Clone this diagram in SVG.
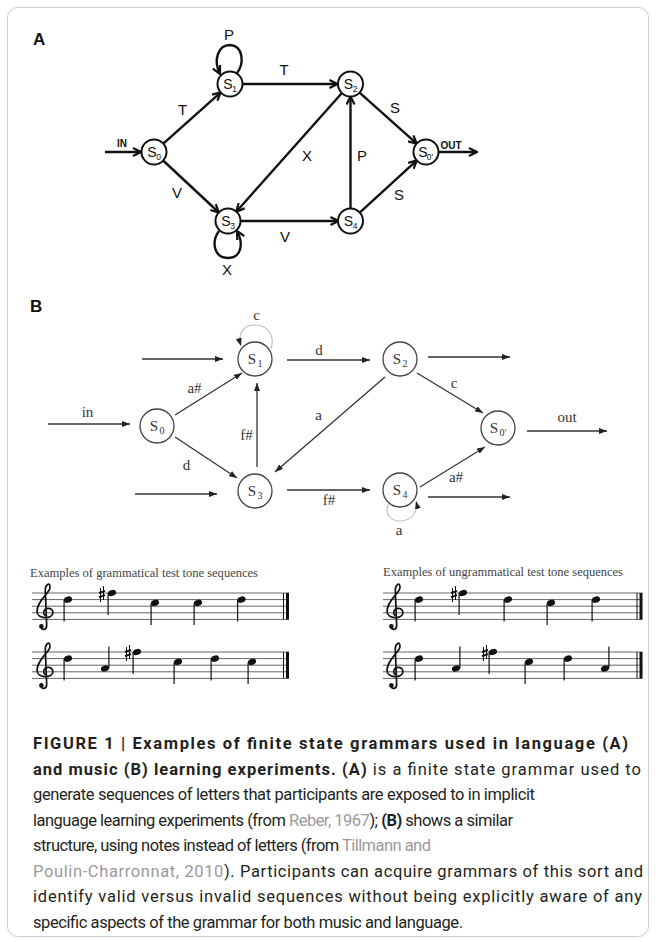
<svg xmlns="http://www.w3.org/2000/svg" xmlns:xlink="http://www.w3.org/1999/xlink" width="656" height="942" viewBox="0 0 656 942">
<style>
.a-line{stroke:#111;stroke-width:2.4;fill:none;marker-end:url(#arA)}
.a-node circle{fill:#fff;stroke:#111;stroke-width:2}
.a-s{font-family:"Liberation Sans",Arial,sans-serif;font-size:14px;fill:#111;text-anchor:middle}
.a-sub{font-family:"Liberation Sans",Arial,sans-serif;font-size:8.5px;fill:#111;text-anchor:middle}
.a-lbl{font-family:"Liberation Sans",Arial,sans-serif;font-size:15px;fill:#111;text-anchor:middle}
.a-io{font-family:"Liberation Sans",Arial,sans-serif;font-size:10px;font-weight:bold;fill:#111;text-anchor:middle}
.panel{font-family:"Liberation Sans",Arial,sans-serif;font-size:17px;font-weight:bold;fill:#111}
.b-line{stroke:#333;stroke-width:1.3;fill:none;marker-end:url(#arB)}
.b-loop{stroke:#bbb;stroke-width:1.1;fill:none;marker-end:url(#arB)}
.b-node circle{fill:#fff;stroke:#444;stroke-width:1.3}
.b-s{font-family:"Liberation Serif","Times New Roman",serif;font-size:15px;fill:#333;text-anchor:middle}
.b-sub{font-family:"Liberation Serif","Times New Roman",serif;font-size:10px;fill:#333;text-anchor:middle}
.b-lbl{font-family:"Liberation Serif","Times New Roman",serif;font-size:15px;fill:#333;text-anchor:middle}
.staff line{stroke:#666;stroke-width:1}
.mus-t{font-family:"Liberation Serif","Times New Roman",serif;font-size:11.5px;fill:#444}
.cap{font-family:Roboto,"Liberation Sans",sans-serif;font-size:16.5px;fill:#231f20}
.bold{font-weight:bold}
.link{fill:#9a9a9a}
</style>
<defs>
<marker id="arA" viewBox="0 0 10 10" refX="9" refY="5" markerWidth="10" markerHeight="10" markerUnits="userSpaceOnUse" orient="auto">
<path d="M1,1 L9,5 L1,9" fill="none" stroke="#111" stroke-width="2.2"/>
</marker>
<marker id="arB" viewBox="0 0 8 6" refX="8" refY="3" markerWidth="8" markerHeight="6" markerUnits="userSpaceOnUse" orient="auto">
<path d="M0,0 L8,3 L0,6 z" fill="#222"/>
</marker>
<g id="clef">
<path d="M -0.6 2.2 C -0.4 2.7 0.3 2.6 0.25 1.8 L 0.05 -3.3 C 0 -4.3 0.8 -4.8 0.75 -3.8 C 0.7 -2.9 -1.2 -2 -1.2 -0.2 C -1.2 1 1.2 1 1.2 0 C 1.2 -0.9 -0.2 -0.9 -0.2 0 C -0.2 0.3 0.1 0.5 0.3 0.4" transform="scale(6.6)" fill="none" stroke="#111" stroke-width="0.26"/>
<circle cx="-3.6" cy="13.6" r="2.3" fill="#111"/>
</g>
<g id="nd">
<ellipse rx="4.2" ry="3" transform="rotate(-20)" fill="#111"/>
<line x1="-3.9" y1="0.5" x2="-3.9" y2="22" stroke="#111" stroke-width="1.2"/>
</g>
<g id="nu">
<ellipse rx="4.2" ry="3" transform="rotate(-20)" fill="#111"/>
<line x1="3.9" y1="-0.5" x2="3.9" y2="-22" stroke="#111" stroke-width="1.2"/>
</g>
<g id="sh" stroke="#111" fill="none">
<line x1="-1.5" y1="-6" x2="-1.5" y2="8" stroke-width="1"/>
<line x1="1.5" y1="-8" x2="1.5" y2="6" stroke-width="1"/>
<line x1="-3" y1="-1.2" x2="3" y2="-3.2" stroke-width="1.8"/>
<line x1="-3" y1="3.2" x2="3" y2="1.2" stroke-width="1.8"/>
</g>
</defs>
<rect x="0" y="0" width="656" height="942" fill="#fff"/>
<rect x="7.5" y="7.5" width="641" height="929" rx="10" fill="none" stroke="#ccc" stroke-width="1"/>

<text class="panel" x="33" y="45">A</text>

<g id="connectors-a">
<line class="a-line" x1="105" y1="152" x2="141" y2="152"/>
<line class="a-line" x1="163.3" y1="143.7" x2="220.7" y2="92.3"/>
<line class="a-line" x1="242.5" y1="84" x2="337.5" y2="84"/>
<line class="a-line" x1="359.3" y1="92.3" x2="416.7" y2="143.7"/>
<line class="a-line" x1="341.7" y1="93.3" x2="236.3" y2="211.7"/>
<line class="a-line" x1="163.1" y1="160.5" x2="218.9" y2="212.5"/>
<line class="a-line" x1="240.5" y1="221" x2="338.5" y2="221"/>
<line class="a-line" x1="350.5" y1="208.5" x2="350.5" y2="96.5"/>
<line class="a-line" x1="359.7" y1="212.6" x2="416.8" y2="160.4"/>
<line class="a-line" x1="438.5" y1="152" x2="477" y2="152"/>
<path class="a-line" d="M 237 73 C 244 64 244 46 230 45 C 218 45 213 60 220 74"/>
<path class="a-line" d="M 219 231 C 211 242 214 258 228 258 C 241 258 244 244 237 231"/>
<text class="a-io" x="122" y="147">IN</text>
<text class="a-io" x="451" y="149">OUT</text>
<text class="a-lbl" x="229" y="40">P</text>
<text class="a-lbl" x="284" y="75">T</text>
<text class="a-lbl" x="182.5" y="115">T</text>
<text class="a-lbl" x="177" y="198">V</text>
<text class="a-lbl" x="307" y="161">X</text>
<text class="a-lbl" x="362" y="161">P</text>
<text class="a-lbl" x="395" y="113">S</text>
<text class="a-lbl" x="399" y="200">S</text>
<text class="a-lbl" x="285" y="242">V</text>
<text class="a-lbl" x="227" y="275">X</text>
</g>

<g id="a-s0" class="a-node"><circle cx="154" cy="152" r="12.5"/><text class="a-s" x="152" y="157">S</text><text class="a-sub" x="158.5" y="160">0</text></g>
<g id="a-s1" class="a-node"><circle cx="230" cy="84" r="12.5"/><text class="a-s" x="228" y="89">S</text><text class="a-sub" x="234.5" y="92">1</text></g>
<g id="a-s2" class="a-node"><circle cx="350.5" cy="84" r="12.5"/><text class="a-s" x="348.5" y="89">S</text><text class="a-sub" x="355" y="92">2</text></g>
<g id="a-s3" class="a-node"><circle cx="228" cy="221" r="12.5"/><text class="a-s" x="226" y="226">S</text><text class="a-sub" x="232.5" y="229">3</text></g>
<g id="a-s4" class="a-node"><circle cx="350.5" cy="221" r="12.5"/><text class="a-s" x="348.5" y="226">S</text><text class="a-sub" x="355" y="229">4</text></g>
<g id="a-sout" class="a-node"><circle cx="426" cy="152" r="12.5"/><text class="a-s" x="423" y="157">S</text><text class="a-sub" x="430" y="160">0'</text></g>

<text class="panel" x="30" y="312">B</text>

<g id="connectors-b">
<line class="b-line" x1="48" y1="424" x2="130" y2="424"/>
<line class="b-line" x1="142" y1="359" x2="223" y2="359"/>
<line class="b-line" x1="287" y1="360" x2="370" y2="360"/>
<line class="b-line" x1="428" y1="357" x2="510" y2="357"/>
<line class="b-line" x1="175" y1="415" x2="242" y2="373"/>
<line class="b-line" x1="257" y1="467" x2="257" y2="383"/>
<line class="b-line" x1="385" y1="377" x2="275" y2="472"/>
<line class="b-line" x1="175" y1="437" x2="237" y2="478"/>
<line class="b-line" x1="417" y1="373" x2="483" y2="413"/>
<line class="b-line" x1="135" y1="494" x2="217" y2="494"/>
<line class="b-line" x1="287" y1="490" x2="370" y2="490"/>
<line class="b-line" x1="428" y1="497" x2="510" y2="497"/>
<line class="b-line" x1="420" y1="487" x2="485" y2="447"/>
<line class="b-line" x1="527" y1="431" x2="607" y2="431"/>
<path class="b-loop" d="M 271 349 C 276 333 265 325 255 325 C 244 325 237 333 241 346"/>
<path class="b-loop" d="M 389 503 C 383 515 392 521 400 521 C 410 521 419 513 416 501"/>
<text class="b-lbl" x="256.5" y="320">c</text>
<text class="b-lbl" x="319" y="355">d</text>
<text class="b-lbl" x="194.5" y="393">a#</text>
<text class="b-lbl" x="87.5" y="417">in</text>
<text class="b-lbl" x="246.5" y="440">f#</text>
<text class="b-lbl" x="318.5" y="420">a</text>
<text class="b-lbl" x="186.5" y="470">d</text>
<text class="b-lbl" x="454" y="388">c</text>
<text class="b-lbl" x="329" y="505">f#</text>
<text class="b-lbl" x="567" y="422">out</text>
<text class="b-lbl" x="456" y="482">a#</text>
<text class="b-lbl" x="399" y="535">a</text>
</g>

<g id="b-s0" class="b-node"><circle cx="157" cy="426" r="17"/><text class="b-s" x="154" y="431">S</text><text class="b-sub" x="162" y="434">0</text></g>
<g id="b-s1" class="b-node"><circle cx="255" cy="359" r="17"/><text class="b-s" x="252" y="364">S</text><text class="b-sub" x="260" y="367">1</text></g>
<g id="b-s2" class="b-node"><circle cx="400" cy="359" r="17"/><text class="b-s" x="397" y="364">S</text><text class="b-sub" x="405" y="367">2</text></g>
<g id="b-s3" class="b-node"><circle cx="255" cy="491" r="17"/><text class="b-s" x="252" y="496">S</text><text class="b-sub" x="260" y="499">3</text></g>
<g id="b-s4" class="b-node"><circle cx="400" cy="490" r="17"/><text class="b-s" x="397" y="495">S</text><text class="b-sub" x="405" y="498">4</text></g>
<g id="b-sout" class="b-node"><circle cx="498" cy="428" r="17"/><text class="b-s" x="494" y="433">S</text><text class="b-sub" x="503" y="436">0′</text></g>

<g id="music-grammatical">
<text class="mus-t" x="30" y="577" textLength="228" lengthAdjust="spacingAndGlyphs">Examples of grammatical test tone sequences</text>
<g class="staff">
<line x1="32" y1="593" x2="289" y2="593"/><line x1="32" y1="599.6" x2="289" y2="599.6"/><line x1="32" y1="606.2" x2="289" y2="606.2"/><line x1="32" y1="612.8" x2="289" y2="612.8"/><line x1="32" y1="619.4" x2="289" y2="619.4"/>
<line x1="32" y1="652" x2="289" y2="652"/><line x1="32" y1="658.6" x2="289" y2="658.6"/><line x1="32" y1="665.2" x2="289" y2="665.2"/><line x1="32" y1="671.8" x2="289" y2="671.8"/><line x1="32" y1="678.4" x2="289" y2="678.4"/>
</g>
<line x1="283.5" y1="593" x2="283.5" y2="619.4" stroke="#111" stroke-width="1"/>
<line x1="287.5" y1="593" x2="287.5" y2="619.4" stroke="#111" stroke-width="3"/>
<line x1="283.5" y1="652" x2="283.5" y2="678.4" stroke="#111" stroke-width="1"/>
<line x1="287.5" y1="652" x2="287.5" y2="678.4" stroke="#111" stroke-width="3"/>
<use xlink:href="#clef" x="45" y="612.8"/>
<use xlink:href="#clef" x="45" y="671.8"/>
<use xlink:href="#nd" x="68" y="599.6"/><use xlink:href="#sh" x="102" y="594"/><use xlink:href="#nd" x="112" y="593"/><use xlink:href="#nd" x="155" y="602.9"/><use xlink:href="#nd" x="198" y="602.9"/><use xlink:href="#nd" x="241.5" y="599.6"/>
<use xlink:href="#nd" x="68" y="658.6"/><use xlink:href="#nu" x="105" y="668.5"/><use xlink:href="#sh" x="128" y="653"/><use xlink:href="#nd" x="137" y="652"/><use xlink:href="#nd" x="178" y="661.9"/><use xlink:href="#nd" x="215" y="658.6"/><use xlink:href="#nd" x="252" y="661.9"/>
</g>

<g id="music-ungrammatical">
<text class="mus-t" x="383" y="576" textLength="240" lengthAdjust="spacingAndGlyphs">Examples of ungrammatical test tone sequences</text>
<g class="staff">
<line x1="383" y1="593" x2="642.5" y2="593"/><line x1="383" y1="599.6" x2="642.5" y2="599.6"/><line x1="383" y1="606.2" x2="642.5" y2="606.2"/><line x1="383" y1="612.8" x2="642.5" y2="612.8"/><line x1="383" y1="619.4" x2="642.5" y2="619.4"/>
<line x1="383" y1="652" x2="642.5" y2="652"/><line x1="383" y1="658.6" x2="642.5" y2="658.6"/><line x1="383" y1="665.2" x2="642.5" y2="665.2"/><line x1="383" y1="671.8" x2="642.5" y2="671.8"/><line x1="383" y1="678.4" x2="642.5" y2="678.4"/>
</g>
<line x1="637" y1="593" x2="637" y2="619.4" stroke="#111" stroke-width="1"/>
<line x1="641" y1="593" x2="641" y2="619.4" stroke="#111" stroke-width="3"/>
<line x1="637" y1="652" x2="637" y2="678.4" stroke="#111" stroke-width="1"/>
<line x1="641" y1="652" x2="641" y2="678.4" stroke="#111" stroke-width="3"/>
<use xlink:href="#clef" x="395" y="612.8"/>
<use xlink:href="#clef" x="395" y="671.8"/>
<use xlink:href="#nd" x="419" y="599.6"/><use xlink:href="#sh" x="454" y="594"/><use xlink:href="#nd" x="463" y="593"/><use xlink:href="#nd" x="508" y="599.6"/><use xlink:href="#nd" x="551" y="602.9"/><use xlink:href="#nd" x="596" y="599.6"/>
<use xlink:href="#nd" x="419" y="658.6"/><use xlink:href="#nu" x="456" y="668.5"/><use xlink:href="#sh" x="485" y="653"/><use xlink:href="#nd" x="493" y="652"/><use xlink:href="#nd" x="529" y="661.9"/><use xlink:href="#nd" x="568" y="658.6"/><use xlink:href="#nu" x="605" y="668.5"/>
</g>

<g id="caption">
<text class="cap bold" x="33" y="749" textLength="595" lengthAdjust="spacing">FIGURE 1 | Examples of finite state grammars used in language (A)</text>
<text class="cap" x="33" y="774.5" textLength="608" lengthAdjust="spacing"><tspan class="bold">and music (B) learning experiments. (A)</tspan> is a finite state grammar used to</text>
<text class="cap" x="33" y="800" textLength="502" lengthAdjust="spacing">generate sequences of letters that participants are exposed to in implicit</text>
<text class="cap" x="33" y="825.5" textLength="480" lengthAdjust="spacing">language learning experiments (from <tspan class="link">Reber, 1967</tspan>); <tspan class="bold">(B)</tspan> shows a similar</text>
<text class="cap" x="33" y="851" textLength="398" lengthAdjust="spacing">structure, using notes instead of letters (from <tspan class="link">Tillmann and</tspan></text>
<text class="cap" x="33" y="876.5" textLength="610" lengthAdjust="spacing"><tspan class="link">Poulin-Charronnat, 2010</tspan>). Participants can acquire grammars of this sort and</text>
<text class="cap" x="33" y="902" textLength="609" lengthAdjust="spacing">identify valid versus invalid sequences without being explicitly aware of any</text>
<text class="cap" x="33" y="927.5" textLength="430" lengthAdjust="spacing">specific aspects of the grammar for both music and language.</text>
</g>
</svg>
